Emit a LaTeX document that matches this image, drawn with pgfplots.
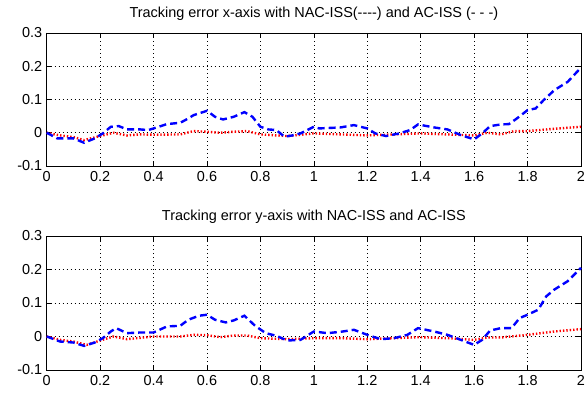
\documentclass[border=0pt]{standalone}
\usepackage{pgfplots}
\pgfplotsset{compat=1.18}
\usepackage{fontspec}
\setmainfont{Liberation Sans}
\pgfplotstableread{
t y
0 0
0.04 -0.017
0.1 -0.017
0.14 -0.03
0.18 -0.017
0.21 -0.002
0.24 0.018
0.27 0.02
0.3 0.01
0.35 0.01
0.38 0.008
0.4 0.013
0.45 0.026
0.5 0.03
0.53 0.043
0.55 0.053
0.6 0.066
0.63 0.048
0.66 0.04
0.7 0.048
0.74 0.062
0.77 0.048
0.8 0.018
0.83 0.01
0.86 0.008
0.89 -0.012
0.92 -0.008
0.95 -0.002
1.0 0.018
1.02 0.013
1.1 0.016
1.15 0.023
1.2 0.013
1.23 -0.002
1.27 -0.01
1.32 -0.002
1.36 0.008
1.39 0.025
1.45 0.016
1.5 0.01
1.55 -0.007
1.6 -0.02
1.63 -0.002
1.66 0.02
1.7 0.025
1.73 0.026
1.76 0.043
1.8 0.068
1.83 0.073
1.86 0.098
1.9 0.128
1.95 0.153
2.0 0.196
}\blueA
\pgfplotstableread{
t y
0 0
0.05 -0.008
0.1 -0.013
0.14 -0.022
0.2 -0.01
0.25 0.0
0.3 -0.008
0.35 -0.005
0.4 -0.006
0.5 -0.005
0.55 0.005
0.6 0.003
0.65 0.0
0.7 0.003
0.75 0.005
0.8 -0.005
0.9 -0.01
1.0 -0.002
1.1 -0.005
1.2 -0.008
1.3 -0.005
1.4 -0.002
1.5 -0.005
1.6 -0.008
1.65 0.0
1.7 -0.005
1.75 0.005
1.8 0.005
1.9 0.012
2.0 0.018
}\redA
\pgfplotstableread{
t y
0 0
0.05 -0.015
0.1 -0.018
0.14 -0.028
0.18 -0.018
0.21 -0.005
0.24 0.015
0.26 0.025
0.3 0.01
0.35 0.012
0.4 0.012
0.45 0.03
0.5 0.032
0.53 0.05
0.57 0.062
0.6 0.065
0.63 0.05
0.67 0.042
0.7 0.048
0.74 0.062
0.78 0.032
0.82 0.01
0.86 0.002
0.9 -0.012
0.95 -0.01
1.0 0.015
1.05 0.01
1.1 0.014
1.15 0.02
1.2 0.005
1.25 -0.008
1.3 -0.005
1.35 0.005
1.39 0.025
1.45 0.015
1.5 0.005
1.55 -0.01
1.6 -0.025
1.63 -0.01
1.66 0.018
1.7 0.025
1.74 0.025
1.77 0.055
1.8 0.065
1.84 0.08
1.87 0.12
1.9 0.14
1.95 0.165
2.0 0.205
}\blueB
\pgfplotstableread{
t y
0 0
0.05 -0.01
0.1 -0.015
0.15 -0.025
0.2 -0.012
0.25 0.0
0.3 -0.008
0.4 0.0
0.5 0.0
0.55 0.005
0.6 0.004
0.65 -0.002
0.7 0.003
0.75 0.003
0.8 -0.005
0.9 -0.008
1.0 -0.005
1.1 -0.005
1.2 -0.008
1.3 -0.005
1.4 -0.002
1.5 -0.005
1.6 -0.01
1.65 -0.003
1.7 -0.003
1.8 0.005
1.9 0.015
2.0 0.022
}\redB
\pgfplotsset{
  myax/.style={
    scale only axis, width=534.3bp, height=133bp,
    anchor=south west,
    xmin=0, xmax=2, ymin=-0.1, ymax=0.3,
    xtick={0,0.2,...,2.01}, ytick={-0.1,0,0.1,0.2,0.3},
    xticklabels={0,0.2,0.4,0.6,0.8,1,1.2,1.4,1.6,1.8,2},
    yticklabels={-0.1,0,0.1,0.2,0.3},
    tick align=inside, major tick length=5bp,
    grid=major, grid style={black, line width=0.6pt, dash pattern=on 0.8bp off 3.2bp},
    axis line style={black, line width=0.8pt},
    tick style={black, line width=0.6pt},
    ticklabel style={font=\fontsize{14.5}{15}\selectfont},
    xticklabel style={yshift=-2bp},
    yticklabel style={xshift=-1bp},
    scaled y ticks=false,
    title style={font=\fontsize{14.5}{15}\selectfont, at={(0.5,1)}, anchor=south, yshift=3bp},
    clip=false,
  },
  blueline/.style={blue, line width=2.4pt, dash pattern=on 7bp off 4bp},
  redline/.style={red, line width=2.4pt, dash pattern=on 1.4bp off 2bp},
}
\begin{document}
\begin{tikzpicture}[x=1bp,y=1bp]
\useasboundingbox (0,0) rectangle (588,392);
\begin{axis}[myax, at={(46.7bp,226bp)},
  title={Tracking error x-axis with NAC-ISS({-}{-}{-}{-}) and AC-ISS ({-} {-} {-})}]
\addplot[redline] table[x=t,y=y] {\redA};
\addplot[blueline] table[x=t,y=y] {\blueA};
\end{axis}
\begin{axis}[myax, at={(46.7bp,22bp)}, height=134bp,
  title={Tracking error y-axis with NAC-ISS and AC-ISS}]
\addplot[redline] table[x=t,y=y] {\redB};
\addplot[blueline] table[x=t,y=y] {\blueB};
\end{axis}
\end{tikzpicture}
\end{document}
